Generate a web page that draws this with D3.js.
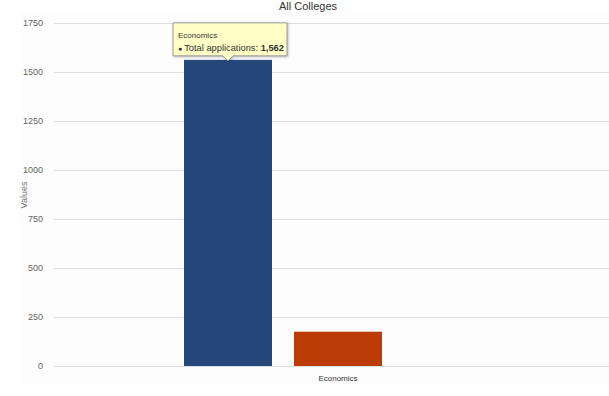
<!doctype html>
<html lang="en">
<head>
<meta charset="utf-8">
<title>All Colleges</title>
<style>
  body { margin: 0; background: #fff; }
  svg { display: block; font-family: "Liberation Sans", Arial, sans-serif; }
  .grid line { stroke: #dedede; stroke-width: 1; }
  .tick text { fill: #666; font-size: 9px; }
</style>
</head>
<body>
<script src="https://cdnjs.cloudflare.com/ajax/libs/d3/7.8.5/d3.min.js"></script>
<script>
var categories = ["Economics"];
var seriesNames = ["Total applications", "Admitted"];
var seriesColors = ["#254779", "#bc3b06"];
var values = [[1562], [175]];
var yTicks = [0, 250, 500, 750, 1000, 1250, 1500, 1750];

var width = 609, height = 396;

var svg = d3.select("body").append("svg")
  .attr("width", width).attr("height", height);

svg.append("rect").attr("x", 20).attr("y", 12).attr("width", width - 20).attr("height", 372)
  .attr("fill", "#fdfdfd");

var y = d3.scaleLinear().domain([0, 1750]).range([366, 23]);
var x = d3.scaleBand().domain(categories).range([54, 524]);
var xs = d3.scaleBand().domain(seriesNames).range([130, 328]).paddingInner(0.2);

// gridlines
svg.append("g").attr("class", "grid")
  .selectAll("line").data(yTicks).enter().append("line")
  .attr("x1", 54).attr("x2", width)
  .attr("y1", function(d) { return Math.round(y(d)) + 0.5; })
  .attr("y2", function(d) { return Math.round(y(d)) + 0.5; });

// y axis labels
var yAxis = d3.axisLeft(y).tickValues(yTicks).tickFormat(d3.format("d")).tickSize(0).tickPadding(0);
var ya = svg.append("g").attr("transform", "translate(43,0)").call(yAxis);
ya.select(".domain").remove();

svg.append("text").attr("transform", "translate(27,195) rotate(-90)")
  .attr("text-anchor", "middle").attr("font-size", 9).attr("fill", "#777")
  .text("Values");

svg.append("text").attr("x", 308).attr("y", 10).attr("text-anchor", "middle")
  .attr("font-size", 11).attr("fill", "#333").text("All Colleges");

// bars
var g = svg.append("g").attr("transform", "translate(" + x("Economics") + ",0)");
seriesNames.forEach(function(s, i) {
  g.selectAll(".bar" + i).data(values[i]).enter().append("rect")
    .attr("x", xs(s)).attr("width", xs.bandwidth())
    .attr("y", function(d) { return y(d); })
    .attr("height", function(d) { return y(0) - y(d); })
    .attr("fill", seriesColors[i]);
});

// x label
svg.append("text").attr("x", x("Economics") + x.bandwidth() / 2 + 49).attr("y", 381)
  .attr("text-anchor", "middle").attr("font-size", 8).attr("fill", "#333").text(categories[0]);

// tooltip
var bx = x("Economics") + xs(seriesNames[0]) + xs.bandwidth() / 2;
var by = y(values[0][0]);
var tw = 114, th = 33, tx = bx - 55, ty = by - 37;
var tip = svg.append("g");
tip.append("path")
  .attr("d", "M" + tx + "," + ty + "h" + tw + "v" + th + "h" + (-(tx + tw - bx - 5)) +
    "l-5,5l-5,-5H" + tx + "Z")
  .attr("fill", "#ffffc6").attr("stroke", "#9a9a9a").attr("stroke-width", 1)
  .style("filter", "drop-shadow(1px 1px 1px rgba(0,0,0,0.25))");
tip.append("text").attr("x", tx + 5).attr("y", ty + 15).attr("font-size", 8)
  .attr("fill", "#333").text(categories[0]);
var t2 = tip.append("text").attr("x", tx + 5).attr("y", ty + 28).attr("font-size", 9.3).attr("fill", "#333");
t2.append("tspan").attr("font-size", 7).text("\u25CF ");
t2.append("tspan").text(seriesNames[0] + ": ");
t2.append("tspan").attr("font-weight", "bold").text(d3.format(",")(values[0][0]));
</script>
</body>
</html>
